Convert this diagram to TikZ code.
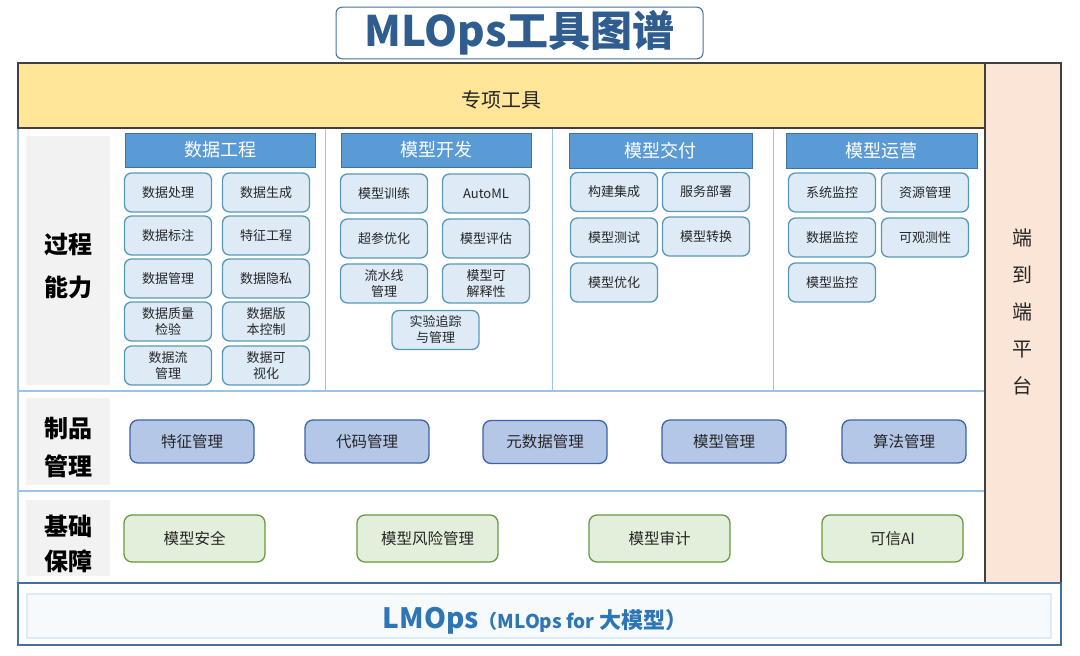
\documentclass[tikz,border=0pt]{standalone}
\usepackage{fontspec}
\setmainfont{Noto Sans CJK SC}
\usepackage{tikz}

\definecolor{itemfill}{HTML}{DEEBF7}
\definecolor{itembd}{HTML}{5799B6}
\definecolor{headfill}{HTML}{5B9BD5}
\definecolor{headbd}{HTML}{41719C}
\definecolor{artfill}{HTML}{B4C7E7}
\definecolor{artbd}{HTML}{3C64A4}
\definecolor{basefill}{HTML}{E2EFDA}
\definecolor{basebd}{HTML}{6A9840}
\definecolor{labfill}{HTML}{F2F2F2}
\definecolor{framebd}{HTML}{9DC3E6}
\definecolor{darkbd}{HTML}{404040}
\definecolor{yellowfill}{HTML}{FFE699}
\definecolor{peachfill}{HTML}{FBE5D6}
\definecolor{titleblue}{HTML}{2F5D8F}
\definecolor{lmblue}{HTML}{2E75B6}
\definecolor{txt}{HTML}{262626}

\begin{document}
\begin{tikzpicture}[x=1pt, y=-1pt,
    itembox/.style={draw=itembd, fill=itemfill, line width=1.3pt, rounded corners=7pt,
      minimum width=87pt, minimum height=39pt, inner sep=1pt, align=center, text=txt,
      font=\fontsize{13}{16}\selectfont},
    headbox/.style={draw=headbd, fill=headfill, line width=1pt, minimum width=190pt,
      minimum height=34pt, text=white, font=\fontsize{18}{20}\selectfont},
    artbox/.style={draw=artbd, fill=artfill, line width=1.3pt, rounded corners=8pt,
      minimum width=124pt, minimum height=43pt, text=txt, font=\fontsize{15.5}{18}\selectfont},
    basebox/.style={draw=basebd, fill=basefill, line width=1.3pt, rounded corners=8pt,
      minimum width=141pt, minimum height=47pt, text=txt, font=\fontsize{15.5}{18}\selectfont},
    rowlabel/.style={align=center, text=black}]
    \useasboundingbox (0, 0) rectangle (1080, 656);

    % frame
    \draw [framebd, line width=1.2pt] (18, 128) rectangle (985, 583);
    \draw [framebd, line width=1.2pt] (18, 391) -- (985, 391);
    \draw [framebd, line width=1.2pt] (18, 491) -- (985, 491);
    \draw [framebd, line width=1pt] (325, 128) -- (325, 391);
    \draw [framebd, line width=1pt] (552, 128) -- (552, 391);
    \draw [framebd, line width=1pt] (773, 128) -- (773, 391);
    \draw [darkbd, fill=yellowfill, line width=1.2pt] (18, 63) rectangle (985, 128);
    \draw [darkbd, fill=peachfill, line width=1.2pt] (985, 63) rectangle (1061, 583);
    \draw [headbd, line width=1.2pt] (18, 583) rectangle (1061, 645);
    \draw [itemfill, fill=itemfill!25, line width=1.5pt] (27, 594) rectangle (1051, 638);
    \fill [labfill] (26, 136) rectangle (110, 385);
    \fill [labfill] (26, 398) rectangle (110, 485);
    \fill [labfill] (26, 500) rectangle (110, 576);

    % title
    \node [draw=headbd, line width=1pt, rounded corners=6pt, minimum width=367pt,
      minimum height=50pt, text=titleblue, font=\fontsize{42}{42}\bfseries] (title)
      at (519.5, 33) {MLOps工具图谱};
    \node [text=txt, font=\fontsize{20}{22}\selectfont] (special) at (501, 100) {专项工具};
    \node [align=center, text=txt, font=\fontsize{20}{37}\selectfont] (e2e) at (1022, 312)
      {端\\到\\端\\平\\台};

    % row labels
    \node [rowlabel, font=\fontsize{24}{43}\bfseries] (proc) at (68, 266.5) {过程\\能力};
    \node [rowlabel, font=\fontsize{24}{38}\bfseries] (artif) at (68, 447.5) {制品\\管理};
    \node [rowlabel, font=\fontsize{24}{35}\bfseries] (found) at (68, 543.5) {基础\\保障};

    % data engineering
    \node [headbox] (dehead) at (220, 150) {数据工程};
    \node [itembox] (de1) at (168, 192.5) {数据处理};
    \node [itembox] (de2) at (266, 192.5) {数据生成};
    \node [itembox] (de3) at (168, 235.5) {数据标注};
    \node [itembox] (de4) at (266, 235.5) {特征工程};
    \node [itembox] (de5) at (168, 278.5) {数据管理};
    \node [itembox] (de6) at (266, 278.5) {数据隐私};
    \node [itembox] (de7) at (168, 321.5) {数据质量\\检验};
    \node [itembox] (de8) at (266, 321.5) {数据版\\本控制};
    \node [itembox] (de9) at (168, 365.5) {数据流\\管理};
    \node [itembox] (de10) at (266, 365.5) {数据可\\视化};

    % model development
    \node [headbox] (mdhead) at (436, 150) {模型开发};
    \node [itembox] (md1) at (384, 193.5) {模型训练};
    \node [itembox] (md2) at (486, 193.5) {AutoML};
    \node [itembox] (md3) at (384, 238.5) {超参优化};
    \node [itembox] (md4) at (486, 238.5) {模型评估};
    \node [itembox] (md5) at (384, 283.5) {流水线\\管理};
    \node [itembox] (md6) at (486, 283.5) {模型可\\解释性};
    \node [itembox] (md7) at (435.5, 330) {实验追踪\\与管理};

    % model delivery
    \node [headbox, minimum width=183pt, minimum height=35pt] (mvhead) at (660.5, 150.5) {模型交付};
    \node [itembox] (mv1) at (614, 192) {构建集成};
    \node [itembox] (mv2) at (706, 192) {服务部署};
    \node [itembox] (mv3) at (614, 237.5) {模型测试};
    \node [itembox] (mv4) at (706, 236.5) {模型转换};
    \node [itembox] (mv5) at (614, 282.5) {模型优化};

    % model operation
    \node [headbox, minimum width=191pt, minimum height=35pt] (mohead) at (881.5, 150.5) {模型运营};
    \node [itembox] (mo1) at (832, 192.5) {系统监控};
    \node [itembox] (mo2) at (925, 192.5) {资源管理};
    \node [itembox] (mo3) at (832, 237.5) {数据监控};
    \node [itembox] (mo4) at (925, 237.5) {可观测性};
    \node [itembox] (mo5) at (832, 282.5) {模型监控};

    % artifacts
    \node [artbox] (art1) at (192, 441.5) {特征管理};
    \node [artbox] (art2) at (367, 441.5) {代码管理};
    \node [artbox] (art3) at (545, 442) {元数据管理};
    \node [artbox] (art4) at (724, 441.5) {模型管理};
    \node [artbox] (art5) at (904, 441.5) {算法管理};

    % foundation
    \node [basebox] (bas1) at (194.5, 538.5) {模型安全};
    \node [basebox] (bas2) at (427.5, 538.5) {模型风险管理};
    \node [basebox] (bas3) at (659.5, 538.5) {模型审计};
    \node [basebox] (bas4) at (892.5, 538.5) {可信AI};

    % LMOps
    \node [text=lmblue] (lmops) at (535, 621)
      {\fontsize{28}{30}\bfseries LMOps\fontsize{19}{30}\selectfont（MLOps for
      \fontsize{22}{30}\selectfont 大模型）};
\end{tikzpicture}
\end{document}
